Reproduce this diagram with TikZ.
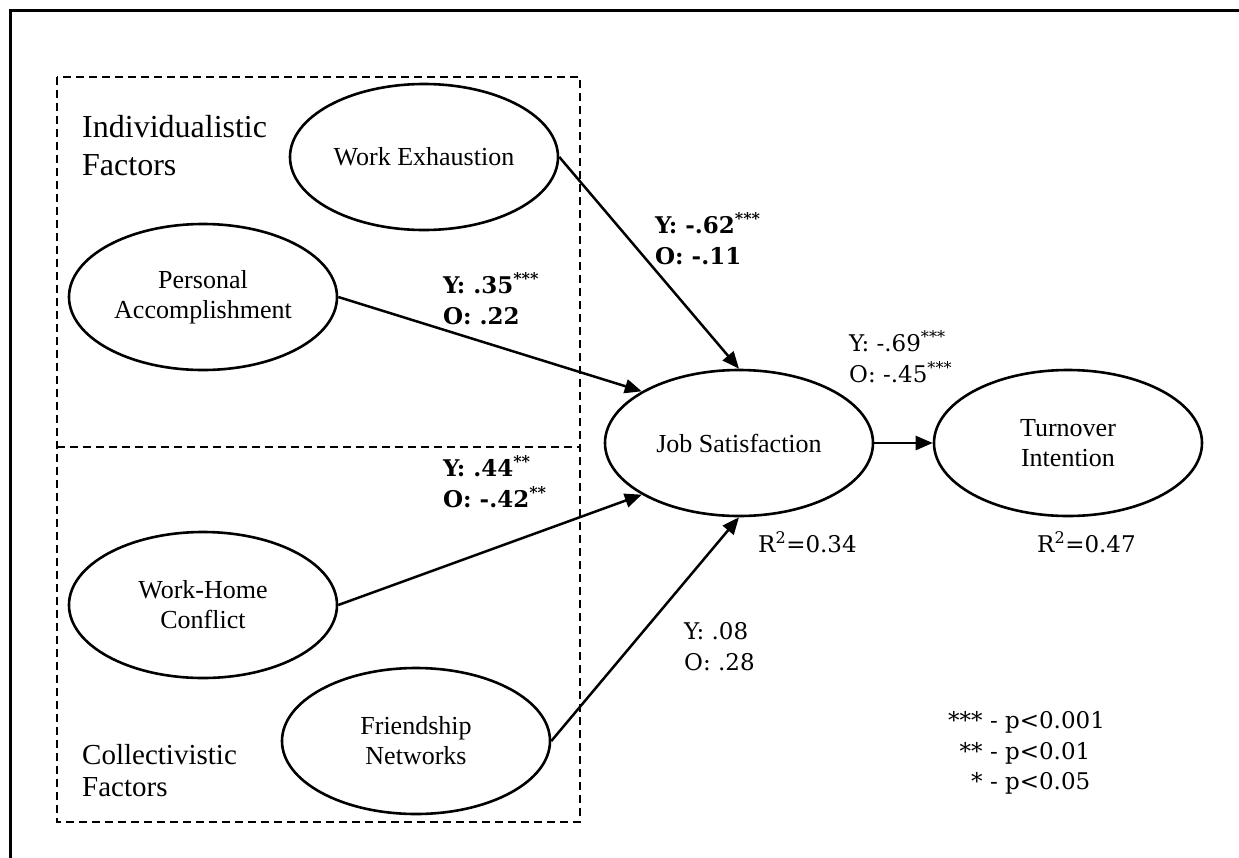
\documentclass[tikz,border=0pt]{standalone}
\usepackage{fontspec}
\setmainfont{Liberation Serif}
\newfontfamily\labfont{DejaVu Serif}
\usetikzlibrary{arrows.meta,shapes.geometric}
\begin{document}
\begin{tikzpicture}[x=1pt,y=-1pt,
  ell/.style={ellipse,draw,line width=2.6pt,minimum width=268pt,minimum height=146pt,inner sep=0pt,align=center,font=\fontsize{26}{30}\selectfont},
  conn/.style={line width=2.5pt,-{Triangle[length=17pt,width=14pt]}},
  dashbox/.style={line width=1.8pt,dash pattern=on 8pt off 5pt},
  coef/.style={anchor=west,align=left,inner sep=0pt,font=\labfont\fontsize{23}{31}\selectfont},
  coefb/.style={coef,font=\labfont\bfseries\fontsize{23}{31}\selectfont},
  grp/.style={anchor=west,align=left,inner sep=0pt}
]
\useasboundingbox (0,0) rectangle (1239,857);
\fill[white] (0,0) rectangle (1239,857);
% outer frame
\draw[line width=3pt] (10,870) -- (10,10) -- (1250,10);
% dashed group box
\draw[dashbox] (57,77) rectangle (580,822);
\draw[dashbox] (57,447) -- (580,447);
% group titles
\node[grp,font=\fontsize{32}{38}\selectfont] (ind) at (82,146) {Individualistic\\Factors};
\node[grp,font=\fontsize{29}{32}\selectfont] (col) at (82,771) {Collectivistic\\Factors};
% ellipses
\node[ell] (WE) at (424,157) {Work Exhaustion};
\node[ell] (PA) at (203,297) {Personal\\Accomplishment};
\node[ell] (WHC) at (203,605) {Work-Home\\Conflict};
\node[ell] (FN) at (416,741) {Friendship\\Networks};
\node[ell] (JS) at (739,443) {Job Satisfaction};
\node[ell] (TI) at (1068,443) {Turnover\\Intention};
% connectors
\draw[conn] (WE.east) -- (JS.north);
\draw[conn] (PA.east) -- (JS.152);
\draw[conn] (WHC.east) -- (JS.208);
\draw[conn] (FN.east) -- (JS.south);
\draw[conn] (JS.east) -- (TI.west);
% coefficients
\node[coefb] (c1) at (443,299) {Y: .35\textsuperscript{***}\\O: .22};
\node[coefb] (c2) at (655,239) {Y: -.62\textsuperscript{***}\\O: -.11};
\node[coefb] (c3) at (443,482) {Y: .44\textsuperscript{**}\\O: -.42\textsuperscript{**}};
\node[coef] (c4) at (849,357) {Y: -.69\textsuperscript{***}\\O: -.45\textsuperscript{***}};
\node[coef] (c5) at (684,647) {Y: .08\\O: .28};
\node[coef] (r1) at (758,542) {R\textsuperscript{2}=0.34};
\node[coef] (r2) at (1037,542) {R\textsuperscript{2}=0.47};
% legend
\node[coef,font=\labfont\fontsize{23}{30.5}\selectfont] (leg) at (948,753) {\begin{tabular}{@{}r@{ - }l@{}}{}***&p<0.001\\{}**&p<0.01\\{}*&p<0.05\end{tabular}};
\end{tikzpicture}
\end{document}
